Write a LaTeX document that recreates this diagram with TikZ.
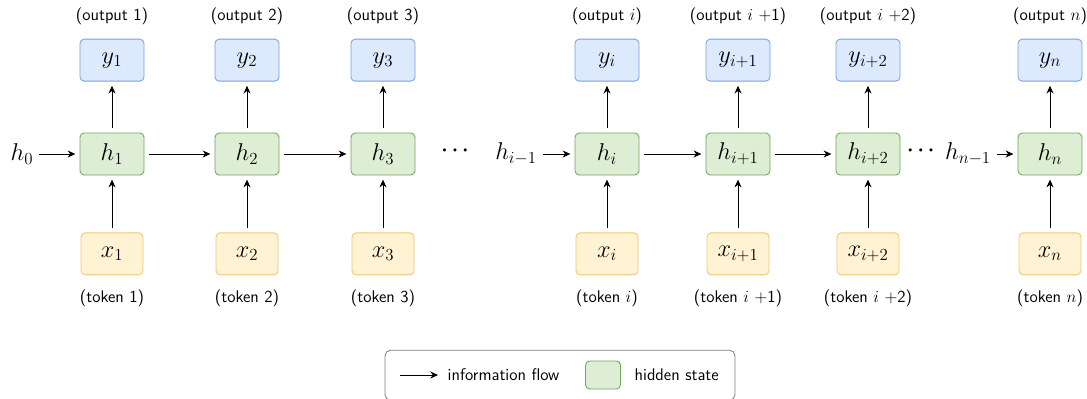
\documentclass[tikz,border=0pt]{standalone}
\usepackage{tikz}
\usetikzlibrary{positioning,arrows.meta,fit,backgrounds}

\definecolor{outfill}{RGB}{221,233,252}
\definecolor{outdraw}{RGB}{118,160,228}
\definecolor{hidfill}{RGB}{221,238,212}
\definecolor{hiddraw}{RGB}{108,168,88}
\definecolor{tokfill}{RGB}{255,243,212}
\definecolor{tokdraw}{RGB}{240,198,110}

\begin{document}
\begin{tikzpicture}[
    font=\sffamily\large,
    cell/.style={rectangle, draw, line width=0.6pt, minimum width=1.6cm, minimum height=1.05cm, text centered, rounded corners=3pt, font=\LARGE},
    hid/.style={cell, fill=hidfill, draw=hiddraw},
    outbox/.style={cell, fill=outfill, draw=outdraw},
    tok/.style={cell, fill=tokfill, draw=tokdraw, minimum width=1.55cm},
    lbl/.style={inner sep=1pt},
    var/.style={inner sep=1pt, font=\LARGE},
    gap/.style={inner sep=1pt, font=\Large\boldmath},
    arrow/.style={-{Stealth[length=5.5pt,width=5pt]}, line width=0.65pt, shorten >=3pt, shorten <=3pt}
]
\useasboundingbox (0,0) rectangle (27.175,-9.95);

% Hidden states
\node[hid] (h1) at (2.8,-3.85) {$h_1$};
\node[hid] (h2) at (6.175,-3.85) {$h_2$};
\node[hid] (h3) at (9.575,-3.85) {$h_3$};
\node[hid] (hi) at (15.175,-3.85) {$h_i$};
\node[hid] (hi1) at (18.45,-3.85) {$h_{i+1}$};
\node[hid] (hi2) at (21.7,-3.85) {$h_{i+2}$};
\node[hid] (hn) at (26.25,-3.85) {$h_n$};

% Outputs
\node[outbox, above=1.275cm of h1] (y1) {$y_1$};
\node[outbox, above=1.275cm of h2] (y2) {$y_2$};
\node[outbox, above=1.275cm of h3] (y3) {$y_3$};
\node[outbox, above=1.275cm of hi] (yi) {$y_i$};
\node[outbox, above=1.275cm of hi1] (yi1) {$y_{i+1}$};
\node[outbox, above=1.275cm of hi2] (yi2) {$y_{i+2}$};
\node[outbox, above=1.275cm of hn] (yn) {$y_n$};

% Tokens
\node[tok, below=1.425cm of h1] (x1) {$x_1$};
\node[tok, below=1.425cm of h2] (x2) {$x_2$};
\node[tok, below=1.425cm of h3] (x3) {$x_3$};
\node[tok, below=1.425cm of hi] (xi) {$x_i$};
\node[tok, below=1.425cm of hi1] (xi1) {$x_{i+1}$};
\node[tok, below=1.425cm of hi2] (xi2) {$x_{i+2}$};
\node[tok, below=1.425cm of hn] (xn) {$x_n$};

% Labels
\node[lbl, above=0.32cm of y1] (o1) {(output 1)};
\node[lbl, above=0.32cm of y2] (o2) {(output 2)};
\node[lbl, above=0.32cm of y3] (o3) {(output 3)};
\node[lbl, above=0.32cm of yi] (oi) {(output $i$)};
\node[lbl, above=0.32cm of yi1] (oi1) {(output $i$ +1)};
\node[lbl, above=0.32cm of yi2] (oi2) {(output $i$ +2)};
\node[lbl, above=0.32cm of yn] (on) {(output $n$)};
\node[lbl, below=0.32cm of x1] (t1) {(token 1)};
\node[lbl, below=0.32cm of x2] (t2) {(token 2)};
\node[lbl, below=0.32cm of x3] (t3) {(token 3)};
\node[lbl, below=0.32cm of xi] (ti) {(token $i$)};
\node[lbl, below=0.32cm of xi1] (ti1) {(token $i$ +1)};
\node[lbl, below=0.32cm of xi2] (ti2) {(token $i$ +2)};
\node[lbl, below=0.32cm of xn] (tn) {(token $n$)};

% Incoming states and gaps
\node[var] (h0) at (0.55,-3.85) {$h_0$};
\node[gap] (dots1) at (11.375,-3.77) {$\cdots$};
\node[var] (him1) at (12.9,-3.85) {$h_{i-1}$};
\node[gap] (dots2) at (23.02,-3.77) {$\cdots$};
\node[var] (hnm1) at (24.2,-3.85) {$h_{n-1}$};

% Connections
\foreach \a/\b in {h0/h1, h1/h2, h2/h3, him1/hi, hi/hi1, hi1/hi2, hnm1/hn}
    \draw[arrow] (\a) -- (\b);
\foreach \c in {1,2,3,i,i1,i2,n} {
    \draw[arrow] (x\c) -- (h\c);
    \draw[arrow] (h\c) -- (y\c);
}

% Legend
\node[draw=gray, line width=0.6pt, rounded corners=4pt, minimum width=8.75cm, minimum height=1.25cm] (legend) at (14.0,-9.38) {};
\coordinate (la) at (10.0,-9.375);
\coordinate (lb) at (10.95,-9.375);
\draw[arrow, shorten >=0pt, shorten <=0pt] (la) -- (lb);
\node[lbl, right=0.2cm of lb] (lflow) {information flow};
\node[hid, minimum width=0.875cm, minimum height=0.7cm, right=0.6cm of lflow] (lhid) {};
\node[lbl, right=0.3cm of lhid] (lstate) {hidden state};

\end{tikzpicture}
\end{document}
